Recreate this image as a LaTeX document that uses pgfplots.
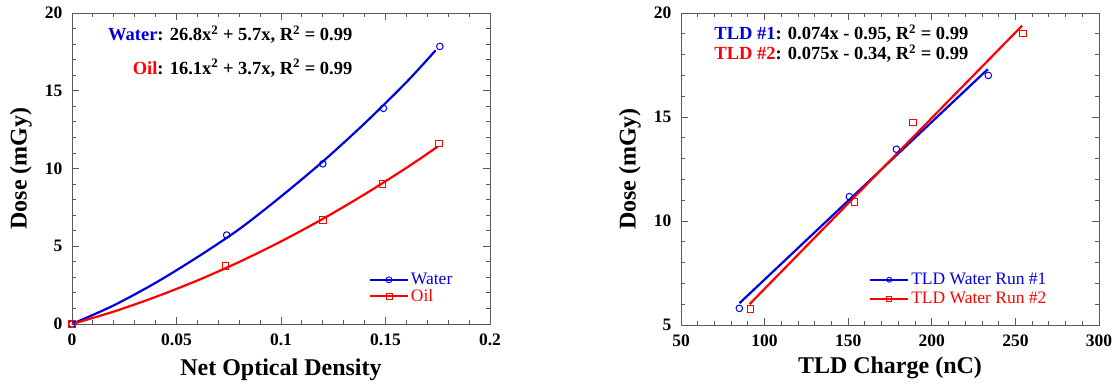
\documentclass[border=0pt]{standalone}
\usepackage{pgfplots}
\pgfplotsset{compat=1.18}
\usepackage{fontspec}
\setmainfont{Liberation Serif}
\definecolor{myblue}{RGB}{0,0,225}
\definecolor{myred}{RGB}{255,0,0}

\pgfplotsset{
 myaxis/.style={
  scale only axis, width=418pt,
  axis line style={black!65, line width=0.9pt},
  tick style={black!65, line width=0.9pt},
  tick align=inside,
  major tick length=7pt, minor tick length=4pt,
  xtick pos=both, ytick pos=both,
  minor x tick num=4, minor y tick num=4,
  tick label style={font=\bfseries\fontsize{17.5}{20}\selectfont, black},
  xticklabel style={yshift=-6pt},
  yticklabel style={xshift=-6pt},
  label style={font=\bfseries\fontsize{24}{28}\selectfont},
  /pgf/number format/assume math mode=true,
  scaled ticks=false,
  legend style={draw=none, fill=none, inner sep=0pt, font=\fontsize{17.5}{19}\selectfont, cells={anchor=west}, row sep=-1pt},
  legend image code/.code={\draw[mark repeat=2,mark phase=2,##1] plot coordinates {(0pt,0pt) (19pt,0pt) (38pt,0pt)};},
  ylabel style={at={(axis description cs:-0.122,0.5)}, anchor=center},
 }
}

\begin{document}
\begin{tikzpicture}
\path[use as bounding box] (-72pt,-62pt) rectangle (1045pt,324pt);

% ---------------- Left panel ----------------
\begin{axis}[myaxis, at={(0pt,0pt)}, anchor=south west, height=311pt,
  xmin=0, xmax=0.2, ymin=0, ymax=20,
  xtick={0,0.05,0.1,0.15,0.2}, xticklabels={0,0.05,0.1,0.15,0.2},
  ytick={0,5,10,15,20},
  xlabel={Net Optical Density}, ylabel={Dose (mGy)},
  xlabel style={at={(axis description cs:0.5,-0.148)}, anchor=center},
  legend style={at={(rel axis cs:0.71,0.17)}, anchor=north west},
  clip=false]
% fit curves
\addplot[myblue, line width=2.2pt, smooth, forget plot] coordinates {
 (0,0) (0.02,1.2) (0.04,2.65) (0.06,4.3) (0.08,6.1) (0.10,8.2)
 (0.12,10.45) (0.14,12.9) (0.16,15.55) (0.174,17.6)};
\addplot[myred, line width=2.2pt, smooth, forget plot] coordinates {
 (0,0) (0.02,0.80) (0.04,1.74) (0.06,2.80) (0.08,3.99) (0.10,5.31)
 (0.12,6.76) (0.14,8.34) (0.16,10.04) (0.175,11.41)};
% data
\addplot[myblue, only marks, mark=o, mark size=3.3pt, mark options={line width=1pt, fill=white}, forget plot] coordinates {
 (0,0) (0.074,5.72) (0.12,10.3) (0.149,13.87) (0.176,17.85)};
\addplot[myred, only marks, mark=square, mark size=3.3pt, mark options={line width=1pt, fill=white}, forget plot] coordinates {
 (0,0) (0.0735,3.72) (0.12,6.7) (0.1486,9.0) (0.1755,11.6)};
\addlegendimage{myblue, line width=2pt, mark=o, mark size=3pt, mark options={line width=0.9pt, fill=white}}
\addlegendentry{\textcolor{myblue}{Water}}
\addlegendimage{myred, line width=2pt, mark=square, mark size=3pt, mark options={line width=0.9pt, fill=white}}
\addlegendentry{\textcolor{myred}{Oil}}
\node[anchor=west, inner sep=0pt, font=\bfseries\fontsize{18.5}{20}\selectfont] at (axis cs:0.0172,18.6)
  {\textcolor{myblue}{Water}: 26.8x\textsuperscript{2} + 5.7x, R\textsuperscript{2} = 0.99};
\node[anchor=west, inner sep=0pt, font=\bfseries\fontsize{18.5}{20}\selectfont] at (axis cs:0.029,16.45)
  {\textcolor{myred}{Oil}: 16.1x\textsuperscript{2} + 3.7x, R\textsuperscript{2} = 0.99};
\end{axis}

% ---------------- Right panel ----------------
\begin{axis}[myaxis, at={(609pt,-1pt)}, anchor=south west, height=312pt,
  xmin=50, xmax=300, ymin=5, ymax=20,
  xtick={50,100,...,300}, ytick={5,10,15,20},
  xlabel={TLD Charge (nC)}, ylabel={Dose (mGy)},
  xlabel style={at={(axis description cs:0.5,-0.138)}, anchor=center},
  legend style={at={(rel axis cs:0.45,0.173)}, anchor=north west, row sep=2pt},
  clip=false]
% fit lines
\addplot[myblue, line width=2.2pt, forget plot] coordinates {(85,6.05) (233.5,17.3)};
\addplot[myred, line width=2.2pt, forget plot] coordinates {(91,6.0) (254,19.39)};
% data
\addplot[myblue, only marks, mark=o, mark size=3.3pt, mark options={line width=1pt, fill=white}, forget plot] coordinates {
 (84.9,5.8) (150.7,11.17) (178.8,13.45) (233.8,17.0)};
\addplot[myred, only marks, mark=square, mark size=3.3pt, mark options={line width=1pt, fill=white}, forget plot] coordinates {
 (91.5,5.77) (153.7,10.9) (188.6,14.73) (254.4,19.02)};
\addlegendimage{myblue, line width=2pt, mark=o, mark size=2.5pt, mark options={line width=0.9pt, fill=white}}
\addlegendentry{\textcolor{myblue}{TLD Water Run \#1}}
\addlegendimage{myred, line width=2pt, mark=square, mark size=2.5pt, mark options={line width=0.9pt, fill=white}}
\addlegendentry{\textcolor{myred}{TLD Water Run \#2}}
\node[anchor=west, inner sep=0pt, font=\bfseries\fontsize{18.5}{20}\selectfont] at (axis cs:69.9,19.02)
  {\textcolor{myblue}{TLD \#1}: 0.074x - 0.95, R\textsuperscript{2} = 0.99};
\node[anchor=west, inner sep=0pt, font=\bfseries\fontsize{18.5}{20}\selectfont] at (axis cs:69.9,18.06)
  {\textcolor{myred}{TLD \#2}: 0.075x - 0.34, R\textsuperscript{2} = 0.99};
\end{axis}
\end{tikzpicture}
\end{document}
